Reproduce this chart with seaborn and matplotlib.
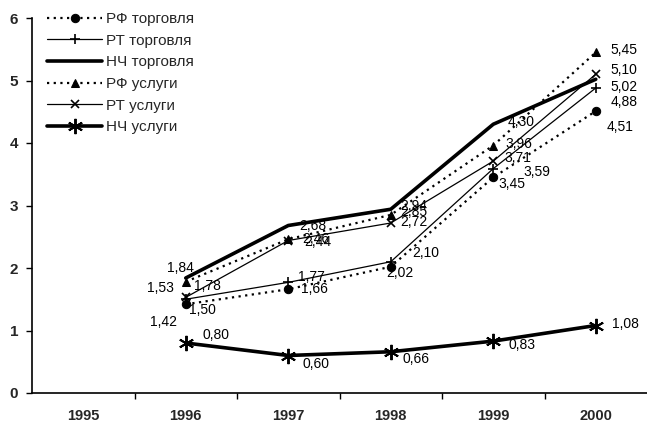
from __future__ import annotations

import matplotlib
matplotlib.use("Agg")
import matplotlib.pyplot as plt
import numpy as np
import pandas as pd
import seaborn as sns

# data
years = ["1995", "1996", "1997", "1998", "1999", "2000"]
data_years = ["1996", "1997", "1998", "1999", "2000"]

rf_trade = [1.42, 1.66, 2.02, 3.45, 4.51]
rt_trade = [1.50, 1.77, 2.10, 3.59, 4.88]
nch_trade = [1.84, 2.68, 2.94, 4.30, 5.02]
rf_serv = [1.78, 2.46, 2.85, 3.96, 5.45]
rt_serv = [1.53, 2.44, 2.72, 3.71, 5.10]
nch_serv = [0.80, 0.60, 0.66, 0.83, 1.08]

names = ["РФ торговля", "РТ торговля", "НЧ торговля", "РФ услуги", "РТ услуги", "НЧ услуги"]
series = [rf_trade, rt_trade, nch_trade, rf_serv, rt_serv, nch_serv]

# drawing styles per series
dotted = (0, (1, 2))
styles = {
    "РФ торговля": dict(linestyle=dotted, linewidth=1.6, marker="o", markersize=6),
    "РТ торговля": dict(linestyle="-", linewidth=0.9, marker="+", markersize=7, markeredgewidth=1.2),
    "НЧ торговля": dict(linestyle="-", linewidth=2.6, marker=None),
    "РФ услуги": dict(linestyle=dotted, linewidth=1.6, marker="^", markersize=6),
    "РТ услуги": dict(linestyle="-", linewidth=0.9, marker="x", markersize=6, markeredgewidth=1.2),
    "НЧ услуги": dict(linestyle="-", linewidth=2.6, marker=(6, 2, 0), markersize=11, markeredgewidth=1.4),
}

# label offsets in pixels (dx, dy up) for each point
offsets = {
    "РФ торговля": [(-22, -18), (26, 0), (9, -6), (19, -7), (24, -16)],
    "РТ торговля": [(17, -11), (23, 5), (35, 9), (44, -3), (28, -14)],
    "НЧ торговля": [(-5, 10), (25, 0), (23, 3), (28, 2), (28, -8)],
    "РФ услуги": [(22, -4), (28, 0), (23, 3), (26, 2), (28, 2)],
    "РТ услуги": [(-25, 9), (30, -1), (23, 1), (25, 3), (28, 4)],
    "НЧ услуги": [(30, 8), (28, -8), (25, -7), (29, -4), (30, 2)],
}


def main() -> None:
    sns.set_theme(style="white")
    plt.rcParams["font.family"] = ["Liberation Sans", "DejaVu Sans"]

    fig, ax = plt.subplots(figsize=(6.47, 4.22), dpi=100)
    fig.subplots_adjust(left=32 / 647, right=1.0, bottom=29 / 422, top=404 / 422)

    pos = {y: i for i, y in enumerate(years)}
    for name, vals in zip(names, series):
        df = pd.DataFrame({"x": [pos[y] for y in data_years], "v": vals})
        sns.lineplot(data=df, x="x", y="v", ax=ax, color="black", label=name,
                     markeredgecolor="black", markerfacecolor="black", **styles[name])
        for xi, v, (dx, dy) in zip(df["x"], vals, offsets[name]):
            ax.annotate(f"{v:.2f}".replace(".", ","), (xi, v), xytext=(dx, dy),
                        textcoords="offset pixels", ha="center", va="center",
                        fontsize=10, color="black", annotation_clip=False)

    ax.set_xlim(-0.5, len(years) - 0.5)
    ax.set_ylim(0, 6)
    ax.set_xticks(range(len(years)))
    ax.set_xticklabels(years)
    ax.set_xticks(np.arange(0.5, len(years) - 0.5, 1.0), minor=True)
    ax.set_yticks(range(0, 7))
    ax.tick_params(axis="x", which="major", length=0, pad=11.5, labelsize=10.5)
    ax.tick_params(axis="x", which="minor", length=4, width=1, color="black", direction="out", bottom=True)
    ax.tick_params(axis="y", length=4, width=1, color="black", direction="out", left=True, pad=6, labelsize=11)
    for lab in ax.get_xticklabels() + ax.get_yticklabels():
        lab.set_fontweight("bold")
    ax.set_xlabel("")
    ax.set_ylabel("")
    ax.grid(False)
    for side in ("top", "right"):
        ax.spines[side].set_visible(False)
    for side in ("left", "bottom"):
        ax.spines[side].set_color("black")
        ax.spines[side].set_linewidth(1.2)

    handles, labels = ax.get_legend_handles_labels()
    ax.legend(handles, labels, loc="upper left", bbox_to_anchor=(47 / 647, 1 - 12 / 422),
              bbox_transform=fig.transFigure, frameon=False, fontsize=11,
              handlelength=3.6, handletextpad=0.25, labelspacing=0.5, borderpad=0, borderaxespad=0)

    fig.savefig("out.png", dpi=100)
    plt.close(fig)


if __name__ == "__main__":
    main()
